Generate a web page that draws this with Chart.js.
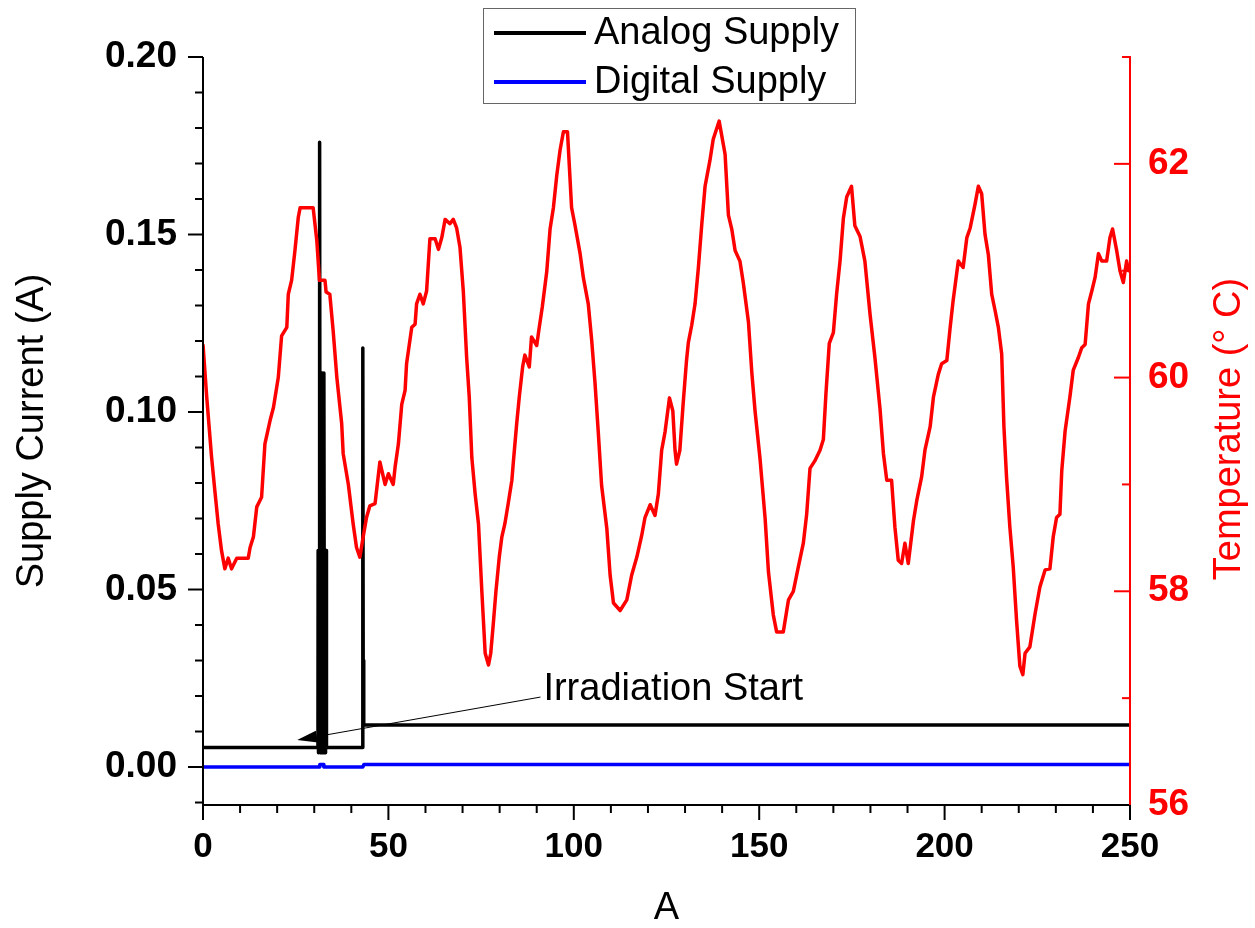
<!DOCTYPE html>
<html>
<head>
<meta charset="utf-8">
<script src="https://cdn.jsdelivr.net/npm/chart.js@4.4.0/dist/chart.umd.min.js"></script>
<style>
html,body{margin:0;padding:0;background:#fff;}
#wrap{width:1255px;height:928px;}
</style>
</head>
<body>
<div id="wrap"><canvas id="c" width="1255" height="928"></canvas></div>
<script>
// ---------- DATA ----------
const tempX = [0,1.0,2.3,3.2,4.1,5.0,5.9,6.8,7.7,9.1,12.2,12.7,13.6,14.5,15.8,16.7,18.1,19.0,20.3,21.2,22.6,23.0,23.9,24.8,25.7,26.2,29.7,30.7,31.4,32.9,33.2,34.2,35.1,36.1,37.4,37.8,39.2,40.5,41.4,42.3,43.2,44.1,45.0,46.4,47.7,49.1,50.0,51.3,51.8,52.7,53.6,54.5,54.9,56.3,57.2,57.6,58.5,59.4,60.3,61.2,62.6,63.5,64.4,65.3,66.6,67.5,68.4,69.3,70.2,71.1,71.8,72.5,73.4,74.3,75.2,76.1,77.0,77.6,78.3,79.0,79.9,80.6,81.4,82.3,83.3,83.7,84.6,85.3,86.2,86.8,88.0,88.6,90.0,90.6,91.5,92.7,93.6,94.5,95.4,96.3,97.2,98.3,99.4,100.3,101.7,102.6,103.9,104.8,105.7,106.6,107.5,108.9,109.8,110.7,112.5,114.3,115.6,117.0,118.3,119.2,120.6,121.9,122.8,123.7,124.6,125.8,126.7,127.3,127.7,128.6,129.5,130.4,130.9,131.8,132.7,133.6,134.5,135.4,136.7,137.6,139.2,140.8,141.7,142.6,143.5,144.8,145.7,147.1,148.0,148.9,150.2,151.6,152.5,153.8,154.7,156.5,157.9,159.2,160.5,161.9,162.8,163.7,165.0,166.4,167.3,168.0,168.9,170.0,170.9,171.8,172.7,173.6,174.9,175.8,177.2,178.5,179.9,181.2,182.6,183.5,184.4,185.7,186.6,187.5,188.4,189.3,190.2,191.6,192.5,193.8,194.7,196.1,197.0,198.3,199.2,200.6,201.5,202.3,203.7,205.0,206.0,206.9,208.2,209.1,210.0,210.9,211.8,212.7,213.6,214.5,215.4,216.0,216.7,217.6,218.5,219.4,220.3,221.1,221.7,223.0,224.4,225.7,227.1,228.4,229.3,230.2,231.1,231.6,232.5,233.8,234.7,236.1,237.0,237.9,238.8,239.7,240.6,241.5,242.4,243.7,244.6,245.3,246.4,247.3,248.2,249.1,249.6,250];
const tempY = [60.31,59.82,59.26,58.94,58.63,58.38,58.21,58.31,58.21,58.31,58.31,58.41,58.51,58.79,58.88,59.38,59.6,59.72,60.0,60.39,60.47,60.78,60.91,61.19,61.5,61.59,61.59,61.28,60.91,60.91,60.80,60.78,60.44,60.0,59.57,59.29,59.0,58.63,58.41,58.32,58.51,58.69,58.8,58.82,59.21,59.0,59.1,59.0,59.16,59.38,59.75,59.88,60.13,60.47,60.5,60.69,60.78,60.69,60.81,61.3,61.3,61.2,61.31,61.48,61.44,61.48,61.4,61.22,60.81,60.19,59.82,59.25,58.91,58.63,58.0,57.42,57.31,57.42,57.7,58.0,58.32,58.51,58.63,58.82,59.04,59.21,59.57,59.82,60.1,60.21,60.1,60.38,60.3,60.45,60.66,60.99,61.39,61.59,61.89,62.13,62.3,62.3,61.59,61.43,61.16,60.93,60.69,60.36,59.96,59.49,58.99,58.59,58.15,57.89,57.82,57.92,58.15,58.32,58.52,58.69,58.81,58.71,58.91,59.32,59.49,59.81,59.69,59.32,59.19,59.32,59.76,60.16,60.33,60.49,60.69,61.03,61.43,61.79,62.03,62.23,62.4,62.09,61.52,61.39,61.19,61.09,60.89,60.52,60.05,59.68,59.25,58.68,58.18,57.78,57.62,57.62,57.92,58.0,58.22,58.45,58.72,59.15,59.22,59.32,59.42,59.85,60.32,60.42,60.79,61.09,61.49,61.69,61.79,61.42,61.32,61.09,60.59,60.19,59.7,59.29,59.04,59.04,58.6,58.29,58.26,58.45,58.26,58.66,58.85,59.07,59.32,59.54,59.82,60.03,60.13,60.16,60.47,60.72,61.09,61.03,61.31,61.4,61.62,61.79,61.72,61.34,61.15,60.78,60.63,60.47,60.22,59.54,59.07,58.6,58.23,57.73,57.3,57.22,57.42,57.48,57.79,58.04,58.2,58.21,58.51,58.69,58.72,59.13,59.5,59.82,60.07,60.19,60.28,60.31,60.69,60.81,60.94,61.16,61.09,61.09,61.31,61.39,61.19,61.0,60.89,61.09,61.0,61.0];

const analogX = [0,31.0,31.05,31.15,31.3,31.45,31.6,31.75,31.85,32.0,32.15,32.3,32.45,32.6,32.75,32.9,33.05,33.2,33.3,43.0,43.1,43.2,43.35,250];
const analogY = [0.0055,0.0055,0.061,0.004,0.061,0.176,0.004,0.061,0.004,0.111,0.004,0.111,0.004,0.111,0.004,0.061,0.004,0.061,0.0055,0.0055,0.118,0.03,0.0118,0.0118];

const digitalX = [0,31.3,31.5,32.4,32.6,43.1,43.4,250];
const digitalY = [0,0,0.0007,0.0007,0,0,0.0007,0.0007];

const xMajor = [0,50,100,150,200,250];
const xMinor = [10,20,30,40,60,70,80,90,110,120,130,140,160,170,180,190,210,220,230,240];
const yMajor = [0,0.05,0.10,0.15,0.20];
const yMinor = [-0.01,0.01,0.02,0.03,0.04,0.06,0.07,0.08,0.09,0.11,0.12,0.13,0.14,0.16,0.17,0.18,0.19];
const y2Major = [56,58,60,62];
const y2Minor = [57,59,61,63];

const seriesNames = ['Analog Supply','Digital Supply','Temperature'];
const xTitle = 'A';
const yTitle = 'Supply Current (A)';
const y2Title = 'Temperature (\u00B0 C)';
const noteText = 'Irradiation Start';
const noteTip = {x: 25.4, y: 0.0076};
const noteTail = {x: 91.0, y: 0.0197};
const noteTextPos = {x: 91.8, y: 0.0218};

// ---------- CHART ----------
const pts = (xs, ys) => xs.map((x, i) => ({x, y: ys[i]}));
const FAM = '"Liberation Sans", Arial, sans-serif';
const YTICKFONT = {family: FAM, size: 37, weight: 'bold', lineHeight: 1.2};
const XTICKFONT = {family: FAM, size: 35, weight: 'bold', lineHeight: 1.2};
const TITLEFONT = {family: FAM, size: 38, weight: 'normal', lineHeight: 1.0};
const TXT = '38px ' + FAM;

const decor = {
  id: 'decor',
  afterDraw(chart) {
    const {ctx, chartArea: a, scales} = chart;
    const sx = scales.x, sy = scales.y, sy2 = scales.y2;
    ctx.save();
    ctx.lineCap = 'butt';
    const ln = (x1, y1, x2, y2, c, w) => { ctx.strokeStyle = c; ctx.lineWidth = w; ctx.beginPath(); ctx.moveTo(x1, y1); ctx.lineTo(x2, y2); ctx.stroke(); };
    // axes lines
    ln(a.left, a.top, a.left, a.bottom + 1, '#000', 2);
    ln(a.left - 1, a.bottom, a.right, a.bottom, '#000', 2);
    // x ticks
    xMajor.forEach(v => { const p = sx.getPixelForValue(v); ln(p, a.bottom, p, a.bottom + 15, '#000', 2); });
    xMinor.forEach(v => { const p = sx.getPixelForValue(v); ln(p, a.bottom, p, a.bottom + 8, '#000', 2); });
    // y ticks (outside)
    yMajor.forEach(v => { const p = sy.getPixelForValue(v); ln(a.left - 15, p, a.left, p, '#000', 2); });
    yMinor.forEach(v => { const p = sy.getPixelForValue(v); ln(a.left - 8, p, a.left, p, '#000', 2); });
    // right axis (red, inner ticks)
    ln(a.right, a.top - 1, a.right, a.bottom, '#ff0000', 2);
    y2Major.forEach(v => { const p = sy2.getPixelForValue(v); if (v === 56) return; ln(a.right - 16, p, a.right, p, '#ff0000', 2); });
    y2Minor.forEach(v => { const p = sy2.getPixelForValue(v); ln(a.right - 8, p, a.right, p, '#ff0000', 2); });
    // right title, reading bottom to top
    ctx.save();
    ctx.translate(1230, 429);
    ctx.rotate(-Math.PI / 2);
    ctx.fillStyle = '#ff0000';
    ctx.font = TXT;
    ctx.textAlign = 'center'; ctx.textBaseline = 'middle';
    ctx.fillText(y2Title, 0, 0);
    ctx.restore();
    // annotation arrow
    const tx = sx.getPixelForValue(noteTip.x), ty = sy.getPixelForValue(noteTip.y);
    const ex = sx.getPixelForValue(noteTail.x), ey = sy.getPixelForValue(noteTail.y);
    const ang = Math.atan2(ey - ty, ex - tx);
    const L = 20, W = 6;
    const bx = tx + L * Math.cos(ang), by = ty + L * Math.sin(ang);
    ln(bx, by, ex, ey, '#000', 1);
    ctx.fillStyle = '#000';
    ctx.beginPath();
    ctx.moveTo(tx, ty);
    ctx.lineTo(bx - W * Math.sin(ang), by + W * Math.cos(ang));
    ctx.lineTo(bx + W * Math.sin(ang), by - W * Math.cos(ang));
    ctx.closePath(); ctx.fill();
    ctx.font = TXT;
    ctx.textAlign = 'left'; ctx.textBaseline = 'middle';
    ctx.fillText(noteText, sx.getPixelForValue(noteTextPos.x), sy.getPixelForValue(noteTextPos.y));
    // legend
    const lx = 483, ly = 8, lw = 372, lh = 95;
    ctx.fillStyle = '#fff'; ctx.fillRect(lx, ly, lw, lh);
    ctx.strokeStyle = '#666'; ctx.lineWidth = 1; ctx.strokeRect(lx + 0.5, ly + 0.5, lw, lh);
    const ds = chart.data.datasets;
    [0, 1].forEach((i, k) => {
      const yy = 33 + k * 49;
      ln(494, yy, 586, yy, ds[i].borderColor, 4);
      ctx.fillStyle = '#000';
      ctx.font = TXT;
      ctx.textAlign = 'left'; ctx.textBaseline = 'middle';
      ctx.fillText(ds[i].label, 594, yy + 1);
    });
    ctx.restore();
  }
};

new Chart(document.getElementById('c'), {
  type: 'line',
  data: {
    datasets: [
      {label: seriesNames[0], data: pts(analogX, analogY), yAxisID: 'y', borderColor: '#000000', borderWidth: 3.5, borderJoinStyle: 'round', pointRadius: 0, tension: 0, order: 2},
      {label: seriesNames[1], data: pts(digitalX, digitalY), yAxisID: 'y', borderColor: '#0000ff', borderWidth: 3.5, borderJoinStyle: 'round', pointRadius: 0, tension: 0, order: 1},
      {label: seriesNames[2], data: pts(tempX, tempY), yAxisID: 'y2', borderColor: '#ff0000', borderWidth: 3.5, borderJoinStyle: 'round', pointRadius: 0, tension: 0, order: 0}
    ]
  },
  options: {
    responsive: false,
    animation: false,
    events: [],
    layout: {padding: {top: 57, left: 0, right: 0, bottom: 0}},
    plugins: {legend: {display: false}, tooltip: {enabled: false}},
    scales: {
      x: {
        type: 'linear', position: 'bottom', min: 0, max: 250,
        afterBuildTicks: s => { s.ticks = xMajor.map(v => ({value: v})); },
        afterFit: s => { s.height = 123; },
        grid: {display: false, drawTicks: false},
        border: {display: false},
        ticks: {font: XTICKFONT, color: '#000', padding: 21, autoSkip: false, maxRotation: 0, callback: v => String(v)},
        title: {display: true, text: xTitle, font: TITLEFONT, color: '#000', padding: {top: 0, bottom: 0}}
      },
      y: {
        type: 'linear', position: 'left', min: -0.0107, max: 0.2,
        afterBuildTicks: s => { s.ticks = yMajor.map(v => ({value: v})); },
        afterFit: s => { s.width = 203; },
        grid: {display: false, drawTicks: false},
        border: {display: false},
        ticks: {font: YTICKFONT, color: '#000', padding: 26, callback: v => v.toFixed(2)},
        title: {display: true, text: yTitle, font: TITLEFONT, color: '#000', padding: {top: 14, bottom: 0}}
      },
      y2: {
        type: 'linear', position: 'right', min: 56, max: 63,
        afterBuildTicks: s => { s.ticks = y2Major.map(v => ({value: v})); },
        afterFit: s => { s.width = 125; },
        grid: {display: false, drawTicks: false},
        border: {display: false},
        ticks: {font: YTICKFONT, color: '#ff0000', padding: 18, callback: v => String(v)}
      }
    }
  },
  plugins: [decor]
});
</script>
</body>
</html>
